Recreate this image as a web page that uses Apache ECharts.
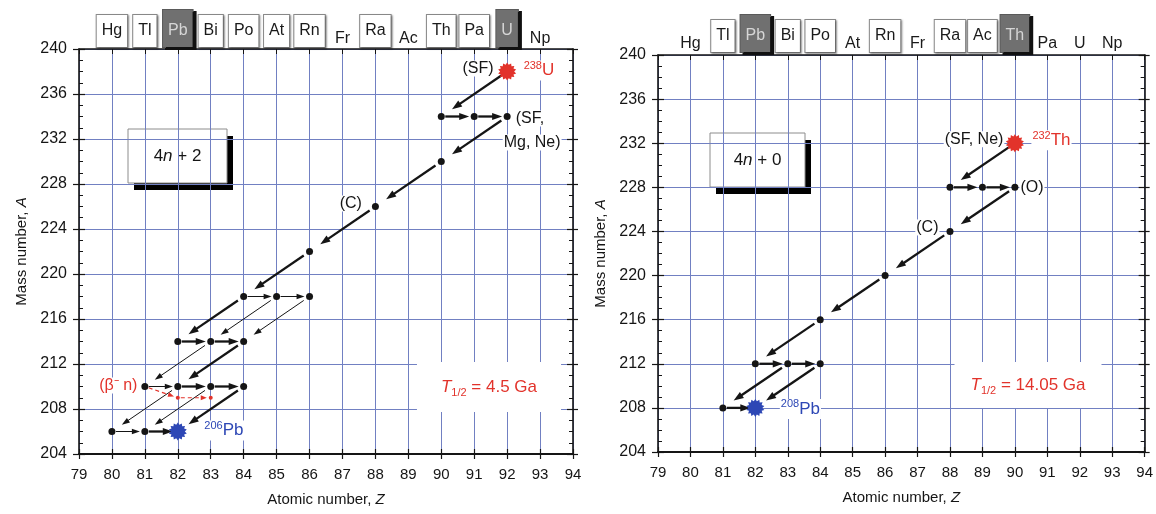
<!DOCTYPE html>
<html>
<head>
<meta charset="utf-8">
<title>Decay chains 4n+2 and 4n+0</title>
<script src="https://cdn.jsdelivr.net/npm/echarts/dist/echarts.min.js"></script>
<style>
  html, body { margin: 0; padding: 0; background: #fff; }
  #chart { width: 1156px; height: 514px; }
</style>
</head>
<body>
<div id="chart"></div>
<script>
// ---------- axes ----------
const zMin = 79, zMax = 94;
const aMin = 204, aMax = 240, aStep = 4;
const elementByZ = { 80: 'Hg', 81: 'Tl', 82: 'Pb', 83: 'Bi', 84: 'Po', 85: 'At', 86: 'Rn',
                     87: 'Fr', 88: 'Ra', 89: 'Ac', 90: 'Th', 91: 'Pa', 92: 'U', 93: 'Np' };
const boxed4n2 = ['Hg', 'Tl', 'Bi', 'Po', 'At', 'Rn', 'Ra', 'Th', 'Pa'];
const shaded4n2 = ['Pb', 'U'];
const boxed4n0 = ['Tl', 'Bi', 'Po', 'Rn', 'Ra', 'Ac'];
const shaded4n0 = ['Pb', 'Th'];

// ---------- 4n+2 chain (238U -> 206Pb), points are [Z, A] ----------
const u238Parent = [[92, 238]];
const u238End = [[82, 206]];
const u238Nuclides = [
  [90, 234], [91, 234], [92, 234], [90, 230], [88, 226], [86, 222],
  [84, 218], [85, 218], [86, 218], [82, 214], [83, 214], [84, 214],
  [81, 210], [82, 210], [83, 210], [84, 210], [80, 206], [81, 206]
];
const u238BetaNNuclides = [[82, 209], [83, 209]];
// transitions [Z1, A1, Z2, A2]
const u238MainSteps = [
  [92, 238, 90, 234], [90, 234, 91, 234], [91, 234, 92, 234], [92, 234, 90, 230],
  [90, 230, 88, 226], [88, 226, 86, 222], [86, 222, 84, 218], [84, 218, 82, 214],
  [82, 214, 83, 214], [83, 214, 84, 214], [84, 214, 82, 210], [82, 210, 83, 210],
  [83, 210, 84, 210], [84, 210, 82, 206], [81, 206, 82, 206]
];
const u238SideSteps = [
  [84, 218, 85, 218], [85, 218, 86, 218], [85, 218, 83, 214], [86, 218, 84, 214],
  [83, 214, 81, 210], [81, 210, 82, 210], [83, 210, 81, 206], [82, 210, 80, 206],
  [80, 206, 81, 206]
];
const u238BetaNSteps = [[81, 210, 82, 209], [82, 209, 83, 209]];
const u238NotesLeft = [[92, 238, '(SF)'], [88, 226, '(C)']];
const u238NotesRight = [[92, 234, '(SF,']];
const u238NotesUnder = [[92, 234, 'Mg, Ne)']];
const u238BetaNNote = [[81, 210, '(β\u207B n)']];
const u238ParentLabel = ['238', 'U'];
const u238EndLabel = ['206', 'Pb'];

// ---------- 4n+0 chain (232Th -> 208Pb) ----------
const th232Parent = [[90, 232]];
const th232End = [[82, 208]];
const th232Nuclides = [
  [88, 228], [89, 228], [90, 228], [88, 224], [86, 220], [84, 216],
  [82, 212], [83, 212], [84, 212], [81, 208]
];
const th232Steps = [
  [90, 232, 88, 228], [88, 228, 89, 228], [89, 228, 90, 228], [90, 228, 88, 224],
  [88, 224, 86, 220], [86, 220, 84, 216], [84, 216, 82, 212], [82, 212, 83, 212],
  [83, 212, 84, 212], [83, 212, 81, 208], [84, 212, 82, 208], [81, 208, 82, 208]
];
const th232NotesLeft = [[90, 232, '(SF, Ne)'], [88, 224, '(C)']];
const th232NotesRight = [[90, 228, '(O)']];
const th232ParentLabel = ['232', 'Th'];
const th232EndLabel = ['208', 'Pb'];

const seriesTitles = ['4n + 2', '4n + 0'];
const halfLives = ['4.5', '14.05'];

// ---------- styling ----------
const FONT = '"Liberation Sans", Arial, Helvetica, sans-serif';
const INK = '#151515';
const GRID_BLUE = '#7180c2';
const RED = '#e2332b';
const BLUE = '#2d47b5';
const CLEAR = 'rgba(0,0,0,0)';

function burstPath(points, inner) {
  let d = '';
  for (let i = 0; i < points * 2; i++) {
    const r = i % 2 ? inner : 1;
    const t = Math.PI * i / points;
    d += (i ? 'L' : 'M') + (r * Math.sin(t)).toFixed(3) + ' ' + (-r * Math.cos(t)).toFixed(3);
  }
  return 'path://' + d + 'Z';
}
const BURST = burstPath(14, 0.76);

function arrowRenderer(o) {
  return function (params, api) {
    const p1 = api.coord([api.value(0), api.value(1)]);
    const p2 = api.coord([api.value(2), api.value(3)]);
    const dx = p2[0] - p1[0], dy = p2[1] - p1[1];
    const len = Math.hypot(dx, dy);
    const ux = dx / len, uy = dy / len;
    const flat = Math.abs(uy) < 0.05;
    const g0 = flat ? o.flatStart : o.start;
    const g1 = flat ? o.flatEnd : o.end;
    const s = [p1[0] + ux * g0, p1[1] + uy * g0];
    const tip = [p2[0] - ux * g1, p2[1] - uy * g1];
    const base = [tip[0] - ux * o.head, tip[1] - uy * o.head];
    const nx = -uy, ny = ux;
    return {
      type: 'group',
      children: [
        { type: 'line',
          shape: { x1: s[0], y1: s[1], x2: base[0] + ux, y2: base[1] + uy },
          style: { stroke: o.color, lineWidth: o.width, lineDash: o.dash || null, fill: null } },
        { type: 'polygon',
          shape: { points: [tip,
            [base[0] + nx * o.half, base[1] + ny * o.half],
            [base[0] - nx * o.half, base[1] - ny * o.half]] },
          style: { fill: o.color } }
      ]
    };
  };
}

const thickArrow = { color: INK, width: 2.3, head: 10, half: 3.6, start: 7, end: 13, flatStart: 4, flatEnd: 5 };
const thinArrow = { color: INK, width: 1.0, head: 8, half: 2.8, start: 7, end: 12, flatStart: 4, flatEnd: 5 };
const redArrow = { color: RED, width: 1.2, head: 6, half: 2.4, start: 4, end: 4, flatStart: 3, flatEnd: 4, dash: [4, 3] };

function arrowSeries(steps, style, xi, yi) {
  return {
    type: 'custom', xAxisIndex: xi, yAxisIndex: yi, clip: false, z: 3,
    renderItem: arrowRenderer(style),
    encode: { x: [0, 2], y: [1, 3] },
    data: steps, silent: true
  };
}

function dotSeries(points, size, color, xi, yi, symbol) {
  return {
    type: 'scatter', xAxisIndex: xi, yAxisIndex: yi, z: 4, silent: true,
    symbol: symbol || 'circle', symbolSize: size,
    itemStyle: { color: color, opacity: 1 },
    data: points
  };
}

const noteText = { fontFamily: FONT, fontSize: 16, color: INK, backgroundColor: '#fff', padding: [0, 1] };

function noteSeries(notes, labelStyle, xi, yi) {
  return {
    type: 'scatter', xAxisIndex: xi, yAxisIndex: yi, z: 5, silent: true,
    symbolSize: 1, itemStyle: { color: CLEAR, opacity: 1 },
    data: notes.map(n => ({ value: [n[0], n[1]], name: n[2] })),
    label: Object.assign({ show: true, formatter: p => p.name }, noteText, labelStyle)
  };
}

function isotopeSeries(point, parts, color, labelStyle, xi, yi) {
  return {
    type: 'scatter', xAxisIndex: xi, yAxisIndex: yi, z: 5, silent: true,
    symbolSize: 1, itemStyle: { color: CLEAR, opacity: 1 },
    data: point,
    label: Object.assign({
      show: true,
      formatter: '{s|' + parts[0] + '}{m|' + parts[1] + '}',
      backgroundColor: '#fff', padding: [0, 1],
      rich: {
        s: { fontFamily: FONT, fontSize: 11, color: color, verticalAlign: 'top', lineHeight: 20, padding: [0, 0, 8, 0] },
        m: { fontFamily: FONT, fontSize: 17, color: color, lineHeight: 20 }
      }
    }, labelStyle)
  };
}

function elementFormatter(boxed, shaded) {
  return function (v) {
    const s = elementByZ[Math.round(v)];
    if (!s) return '';
    if (shaded.indexOf(s) >= 0) return '{dark|' + s + '}';
    if (boxed.indexOf(s) >= 0) return '{box|' + s + '}';
    return '{plain|' + s + '}';
  };
}
const elementRich = {
  box: { fontFamily: FONT, fontSize: 16, color: '#1a1a1a', backgroundColor: '#fff',
         borderColor: '#8c8c8c', borderWidth: 1, padding: [8, 5, 8, 5],
         shadowColor: 'rgba(0,0,0,0.35)', shadowBlur: 2, shadowOffsetX: 1, shadowOffsetY: 1 },
  dark: { fontFamily: FONT, fontSize: 16, color: '#d6d6d6', backgroundColor: '#707070',
          borderColor: '#5a5a5a', borderWidth: 1, padding: [13, 5, 8, 5],
          shadowColor: '#111', shadowBlur: 0, shadowOffsetX: 3, shadowOffsetY: 2 },
  plain: { fontFamily: FONT, fontSize: 16, color: '#1a1a1a', padding: [0, 1, 0, 1] }
};

function panelAxes(gi, boxed, shaded, topMargin) {
  const xCommon = { type: 'value', gridIndex: gi, min: zMin, max: zMax, interval: 1 };
  const yCommon = { type: 'value', gridIndex: gi, min: aMin, max: aMax, interval: aStep };
  const line = { show: true, lineStyle: { color: INK, width: 1.6 } };
  const xs = [
    Object.assign({}, xCommon, {
      position: 'bottom',
      name: 'Atomic number, {i|Z}', nameLocation: 'middle', nameGap: 38,
      nameTextStyle: { fontFamily: FONT, fontSize: 15, color: INK, rich: { i: { fontFamily: FONT, fontSize: 15, fontStyle: 'italic', color: INK } } },
      axisLine: { show: true, lineStyle: { color: INK, width: 2.2 } },
      axisTick: { show: true, inside: false, length: 5, lineStyle: { color: INK, width: 1.2 } },
      axisLabel: { fontFamily: FONT, fontSize: 15, color: INK, margin: 13 },
      splitLine: { show: true, lineStyle: { color: GRID_BLUE, width: 1 } }
    }),
    Object.assign({}, xCommon, {
      position: 'bottom', axisLine: { show: false },
      axisTick: { show: true, inside: true, length: 5, lineStyle: { color: INK, width: 1.2 } },
      axisLabel: { show: false }, splitLine: { show: false }
    }),
    Object.assign({}, xCommon, {
      position: 'top', axisLine: line,
      axisTick: { show: true, inside: true, length: 5, lineStyle: { color: INK, width: 1 } },
      axisLabel: { show: true, margin: topMargin, formatter: elementFormatter(boxed, shaded), rich: elementRich },
      splitLine: { show: false }
    })
  ];
  const ys = [
    Object.assign({}, yCommon, {
      position: 'left',
      name: 'Mass number, {i|A}', nameLocation: 'middle', nameGap: 50, nameRotate: 90,
      nameTextStyle: { fontFamily: FONT, fontSize: 15, color: INK, rich: { i: { fontFamily: FONT, fontSize: 15, fontStyle: 'italic', color: INK } } },
      axisLine: line,
      axisTick: { show: true, inside: false, length: 6, lineStyle: { color: INK, width: 1.2 } },
      axisLabel: { fontFamily: FONT, fontSize: 16, color: INK, margin: 12 },
      splitLine: { show: true, lineStyle: { color: GRID_BLUE, width: 1 } }
    }),
    Object.assign({}, yCommon, {
      position: 'left', axisLine: { show: false },
      axisTick: { show: true, inside: true, length: 6, lineStyle: { color: INK, width: 1.2 } },
      minorTick: { show: true, splitNumber: 4, length: 4, lineStyle: { color: INK, width: 1 } },
      axisLabel: { show: false }, splitLine: { show: false }
    }),
    Object.assign({}, yCommon, {
      position: 'right', axisLine: line,
      axisTick: { show: true, inside: true, length: 6, lineStyle: { color: INK, width: 1.2 } },
      minorTick: { show: true, splitNumber: 4, length: 4, lineStyle: { color: INK, width: 1 } },
      axisLabel: { show: false }, splitLine: { show: false }
    }),
    Object.assign({}, yCommon, {
      position: 'right', axisLine: { show: false },
      axisTick: { show: true, inside: false, length: 5, lineStyle: { color: INK, width: 1.2 } },
      axisLabel: { show: false }, splitLine: { show: false }
    })
  ];
  return { xs, ys };
}

const leftAxes = panelAxes(0, boxed4n2, shaded4n2, 2);
const rightAxes = panelAxes(1, boxed4n0, shaded4n0, 3);

// x indices: left 0..2, right 3..5 ; y indices: left 0..3, right 4..7
const LX = 0, LY = 0, RX = 3, RY = 4;

const series = [
  // 4n+2
  arrowSeries(u238MainSteps, thickArrow, LX, LY),
  arrowSeries(u238SideSteps, thinArrow, LX, LY),
  arrowSeries(u238BetaNSteps, redArrow, LX, LY),
  dotSeries(u238Nuclides, 7, INK, LX, LY),
  dotSeries(u238BetaNNuclides, 4, RED, LX, LY),
  dotSeries(u238Parent, 18, RED, LX, LY, BURST),
  dotSeries(u238End, 18, BLUE, LX, LY, BURST),
  noteSeries(u238NotesLeft, { position: 'left', distance: 12, offset: [0, -3] }, LX, LY),
  noteSeries(u238NotesRight, { position: 'right', distance: 7, offset: [0, 2] }, LX, LY),
  noteSeries(u238NotesUnder, { position: 'inside', offset: [25, 26] }, LX, LY),
  noteSeries(u238BetaNNote, { position: 'left', distance: 6, offset: [0, -1], color: RED }, LX, LY),
  isotopeSeries(u238Parent, u238ParentLabel, RED, { position: 'right', distance: 15, offset: [0, -1] }, LX, LY),
  isotopeSeries(u238End, u238EndLabel, BLUE, { position: 'right', distance: 25, offset: [0, -1] }, LX, LY),
  // 4n+0
  arrowSeries(th232Steps, thickArrow, RX, RY),
  dotSeries(th232Nuclides, 7, INK, RX, RY),
  dotSeries(th232Parent, 18, RED, RX, RY, BURST),
  dotSeries(th232End, 18, BLUE, RX, RY, BURST),
  noteSeries(th232NotesLeft, { position: 'left', distance: 10, offset: [0, -4] }, RX, RY),
  noteSeries(th232NotesRight, { position: 'right', distance: 4, offset: [0, 0] }, RX, RY),
  isotopeSeries(th232Parent, th232ParentLabel, RED, { position: 'right', distance: 16, offset: [0, -3] }, RX, RY),
  isotopeSeries(th232End, th232EndLabel, BLUE, { position: 'right', distance: 24, offset: [0, 1] }, RX, RY)
];

function titleBox(x, y, w, h, title) {
  const parts = title.split('n');
  return {
    type: 'group', z: 10,
    children: [
      { type: 'rect', shape: { x: x + 6, y: y + 7, width: w, height: h }, style: { fill: '#000' } },
      { type: 'rect', shape: { x: x, y: y, width: w, height: h }, style: { fill: '#fff', stroke: '#8c8c8c', lineWidth: 1 } },
      { type: 'text', x: x + w / 2, y: y + h / 2,
        style: { text: parts[0] + '{i|n}' + parts[1], align: 'center', verticalAlign: 'middle',
                 fontFamily: FONT, fontSize: 17, fill: INK,
                 rich: { i: { fontFamily: FONT, fontSize: 17, fontStyle: 'italic', fill: INK } } } }
    ]
  };
}

// half-life caption on a white patch that hides the grid behind it
function halfLifeBox(cx, cy, padV, padH, value) {
  return {
    type: 'text', z: 10, x: cx, y: cy,
    style: {
      text: '{t|T}{s|1/2}{m| = ' + value + ' Ga}', align: 'center', verticalAlign: 'middle',
      backgroundColor: '#fff', padding: [padV, padH, padV, padH],
      rich: {
        t: { fontFamily: FONT, fontSize: 17, fontStyle: 'italic', fill: RED, lineHeight: 22 },
        s: { fontFamily: FONT, fontSize: 11, fill: RED, verticalAlign: 'bottom', lineHeight: 22, padding: [6, 0, 0, 0] },
        m: { fontFamily: FONT, fontSize: 17, fill: RED, lineHeight: 22 }
      }
    }
  };
}

const option = {
  animation: false,
  backgroundColor: '#fff',
  textStyle: { fontFamily: FONT },
  grid: [
    { left: 79, top: 49, width: 494, height: 405 },
    { left: 658, top: 55, width: 487, height: 397 }
  ],
  xAxis: leftAxes.xs.concat(rightAxes.xs),
  yAxis: leftAxes.ys.map(a => Object.assign(a, { gridIndex: 0 }))
          .concat(rightAxes.ys.map(a => Object.assign(a, { gridIndex: 1 }))),
  series: series,
  graphic: [
    titleBox(128, 129, 99, 54, seriesTitles[0]),
    titleBox(710, 133, 95, 54, seriesTitles[1]),
    halfLifeBox(489, 387, 14, 24, halfLives[0]),
    halfLifeBox(1028, 385, 12, 16, halfLives[1])
  ]
};

const chart = echarts.init(document.getElementById('chart'), null, { renderer: 'canvas' });
chart.setOption(option);
</script>
</body>
</html>
